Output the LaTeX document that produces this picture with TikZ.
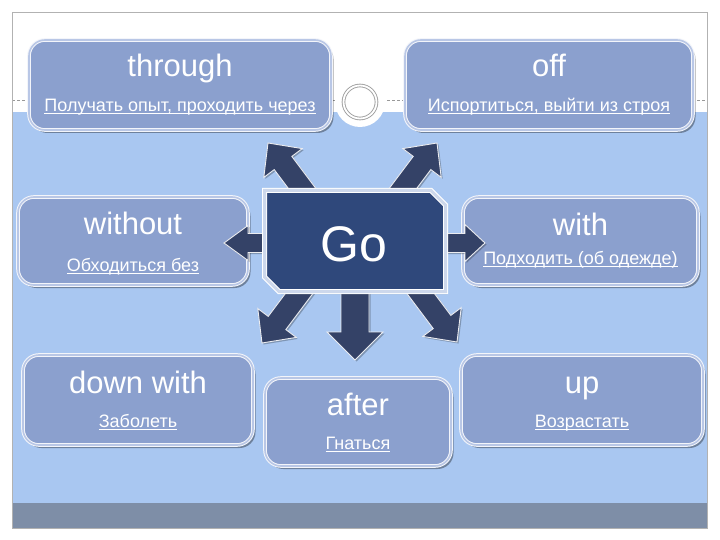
\documentclass[tikz,border=0pt]{standalone}
\usepackage{fontspec}
\setmainfont{Liberation Sans}
\usetikzlibrary{calc,shadows}
\definecolor{bgblue}{HTML}{A9C7F1}
\definecolor{boxfill}{HTML}{8BA0CE}
\definecolor{gofill}{HTML}{2F487B}
\definecolor{arrfill}{HTML}{344267}
\definecolor{bargray}{HTML}{7E8EA7}
\definecolor{ringgap}{HTML}{B9C7E6}
\definecolor{gobord}{HTML}{CDD8EC}
\newcommand\ulx[1]{\setbox0\hbox{#1}\rlap{\rule[-2.2pt]{\wd0}{0.9pt}}\box0}
\newcommand\blockarr[6]{%
  \begin{scope}[shift={(#1)}, rotate=#2]
    \path[blk] (0,0) -- (-#6,#5) -- (-#6,#4) -- (-#3,#4) -- (-#3,-#4) -- (-#6,-#4) -- (-#6,-#5) -- cycle;
  \end{scope}}
\begin{document}
\begin{tikzpicture}[x=1pt,y=-1pt,
  box/.style={rectangle, rounded corners=16pt, fill=boxfill, draw=white!90!boxfill,
    line width=1pt, double=ringgap, double distance=1.6pt, inner sep=0pt,
    drop shadow={shadow xshift=2.5pt, shadow yshift=-3pt, opacity=0.35, fill=black}},
  ttl/.style={anchor=base, text=white, font=\fontsize{31}{31}\selectfont, inner sep=0pt},
  sub/.style={anchor=base, text=white, font=\fontsize{18}{18}\selectfont, inner sep=0pt},
  blk/.style={fill=arrfill, draw=white!90!arrfill, line width=0.9pt, line join=miter,
    drop shadow={shadow xshift=1.5pt, shadow yshift=-1.5pt, opacity=0.25, fill=black}}]
\useasboundingbox (0,0) rectangle (720,540);
\fill[white] (0,0) rectangle (720,540);
% slide background
\fill[bgblue] (12,112) rectangle (707,503);
\fill[bargray] (12,503) rectangle (707,528);
\draw[gray!80, dash pattern=on 3pt off 2pt, line width=0.6pt] (12,100) -- (707,100);
\fill[white] (360,102) circle (25);
\draw[gray!75, line width=0.9pt, double=white, double distance=1.8pt, fill=white] (360,102) circle (16.5);
\draw[gray!60, line width=0.8pt] (12,12) rectangle (707,528);
% boxes
\node[box, minimum width=302pt, minimum height=90pt] (b1) at (180,85) {};
\node[box, minimum width=288pt, minimum height=90pt] (b2) at (549,85) {};
\node[box, minimum width=230pt, minimum height=88pt] (b3) at (133,241) {};
\node[box, minimum width=235pt, minimum height=88pt] (b4) at (580.5,241) {};
\node[box, minimum width=230pt, minimum height=90pt] (b5) at (138,400) {};
\node[box, minimum width=186pt, minimum height=88pt] (b6) at (358,422) {};
\node[box, minimum width=242pt, minimum height=90pt] (b7) at (582,400) {};
% texts
\node[ttl] (t1) at ($(b1.north)+(0,37)$) {through};
\node[sub] (s1) at ($(b1.north)+(0,72)$) {\ulx{Получать опыт, проходить через}};
\node[ttl] (t2) at ($(b2.north)+(0,37)$) {off};
\node[sub] (s2) at ($(b2.north)+(0,72)$) {\ulx{Испортиться, выйти из строя}};
\node[ttl] (t3) at ($(b3.north)+(0,38)$) {without};
\node[sub] (s3) at ($(b3.north)+(0,75)$) {\ulx{Обходиться без}};
\node[ttl] (t4) at ($(b4.north)+(0,39)$) {with};
\node[sub] (s4) at ($(b4.north)+(0,68)$) {\ulx{Подходить (об одежде)}};
\node[ttl] (t5) at ($(b5.north)+(0,39)$) {down with};
\node[sub] (s5) at ($(b5.north)+(0,73)$) {\ulx{Заболеть}};
\node[ttl] (t6) at ($(b6.north)+(0,38)$) {after};
\node[sub] (s6) at ($(b6.north)+(0,72)$) {\ulx{Гнаться}};
\node[ttl] (t7) at ($(b7.north)+(0,39)$) {up};
\node[sub] (s7) at ($(b7.north)+(0,73)$) {\ulx{Возрастать}};
% arrow tips
\coordinate (a1) at (268,143);
\coordinate (a2) at (437,143);
\coordinate (a3) at (224,243);
\coordinate (a4) at (485,243);
\coordinate (a5) at (262,343);
\coordinate (a6) at (355,360);
\coordinate (a7) at (457,342);
\blockarr{a1}{126.87}{85}{11}{24}{25}
\blockarr{a2}{53.13}{85}{11}{24}{25}
\blockarr{a3}{180}{90}{9.5}{17.5}{24}
\blockarr{a4}{0}{90}{9.5}{18.5}{20}
\blockarr{a5}{233.13}{85}{11}{24}{25}
\blockarr{a6}{-90}{100}{14}{28}{28}
\blockarr{a7}{-53.13}{85}{11}{24}{25}
% Go box
\draw[line width=1pt, draw=white, double=gobord, double distance=3pt, fill=gofill,
  drop shadow={shadow xshift=2pt, shadow yshift=-2.5pt, opacity=0.35, fill=black}]
  (264.5,190.5) -- (431,190.5) -- (445.5,205) -- (445.5,291.5) -- (279,291.5) -- (264.5,277) -- cycle;
\node[anchor=base, text=white, font=\fontsize{50}{50}\selectfont, inner sep=0pt] (go) at (354,261) {Go};
\end{tikzpicture}
\end{document}
